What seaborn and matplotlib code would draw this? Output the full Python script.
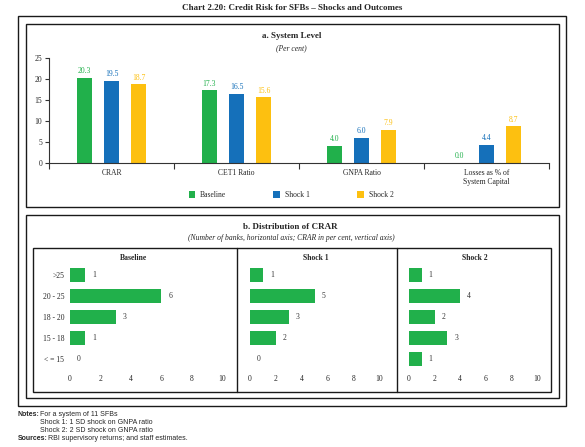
import matplotlib
matplotlib.use("Agg")
import matplotlib.pyplot as plt
import seaborn as sns
import pandas as pd
from matplotlib.patches import Rectangle
from matplotlib.lines import Line2D

# ---------------- data ----------------
categories = ["CRAR", "CET1 Ratio", "GNPA Ratio", "Losses as % of\nSystem Capital"]
series = ["Baseline", "Shock 1", "Shock 2"]
baseline = [20.3, 17.3, 4.0, 0.0]
shock1 = [19.5, 16.5, 6.0, 4.4]
shock2 = [18.7, 15.6, 7.9, 8.7]
y_ticks_a = [0, 5, 10, 15, 20, 25]

crar_buckets = [">25", "20 - 25", "18 - 20", "15 - 18", "< = 15"]
banks_baseline = [1, 6, 3, 1, 0]
banks_shock1 = [1, 5, 3, 2, 0]
banks_shock2 = [1, 4, 2, 3, 1]
x_ticks_b = [0, 2, 4, 6, 8, 10]

colors = ["#21B04B", "#1570BA", "#FDC010"]

# ---------------- style ----------------
sns.set_style("white")
plt.rcParams['font.family'] = ['Liberation Serif', 'DejaVu Sans']
plt.rcParams['axes.unicode_minus'] = False

W, H = 585, 447
fig = plt.figure(figsize=(W / 100, H / 100), dpi=100)
fig.patch.set_facecolor("white")


def fx(px):
    return px / W


def fy(py):
    return 1 - py / H


def axes_px(x0, y0, x1, y1):
    return fig.add_axes([x0 / W, 1 - y1 / H, (x1 - x0) / W, (y1 - y0) / H])


def box(x0, y0, x1, y1, lw=1.0):
    fig.add_artist(Rectangle((fx(x0), fy(y1)), (x1 - x0) / W, (y1 - y0) / H,
                             transform=fig.transFigure, fill=False, lw=lw,
                             ec="#1a1a1a"))


def vline(x, y0, y1, lw=1.0):
    fig.add_artist(Line2D([fx(x), fx(x)], [fy(y0), fy(y1)],
                          transform=fig.transFigure, lw=lw, color="#1a1a1a"))


# frames
box(17.5, 15.5, 565.5, 406)
box(25.5, 23.5, 558.5, 207)
box(25.5, 215.5, 558.5, 398)
box(33, 248, 551, 392)
vline(237, 248, 392)
vline(397, 248, 392)

# titles
fig.text(0.5, fy(8), "Chart 2.20: Credit Risk for SFBs \u2013 Shocks and Outcomes",
         ha="center", va="center", fontsize=6.5, fontweight="bold")
fig.text(fx(291.5), fy(36), "a. System Level", ha="center", va="center",
         fontsize=6.5, fontweight="bold")
fig.text(fx(291.5), fy(48), "(Per cent)", ha="center", va="center",
         fontsize=5.5, style="italic")
fig.text(fx(290), fy(227), "b. Distribution of CRAR", ha="center", va="center",
         fontsize=6.5, fontweight="bold")
fig.text(fx(291), fy(238),
         "(Number of banks, horizontal axis; CRAR in per cent, vertical axis)",
         ha="center", va="center", fontsize=5.5, style="italic")

# ---------------- panel a ----------------
df_a = pd.DataFrame({
    "category": categories * 3,
    "series": [s for s in series for _ in categories],
    "value": baseline + shock1 + shock2,
})
ax = axes_px(49, 58, 549, 163)
sns.barplot(data=df_a, x="category", y="value", hue="series", hue_order=series,
            order=categories, palette=colors, width=0.65, gap=0.42,
            saturation=1, ax=ax, edgecolor="none")
ax.set_xlim(-0.5, 3.5)
ax.set_ylim(0, 25)
ax.set_yticks(y_ticks_a)
ax.set_xlabel("")
ax.set_ylabel("")
for s in ["top", "right"]:
    ax.spines[s].set_visible(False)
for s in ["left", "bottom"]:
    ax.spines[s].set_color("#333333")
    ax.spines[s].set_linewidth(0.8)
ax.tick_params(axis="y", which="major", length=3, width=0.8, color="#333333",
               labelsize=5.5, pad=2, left=True, direction="out")
ax.tick_params(axis="x", which="major", length=0, labelsize=5.5, pad=4)
ax.set_xticks([-0.5, 0.5, 1.5, 2.5, 3.5], minor=True)
ax.tick_params(axis="x", which="minor", length=4, width=0.8, color="#333333",
               bottom=True, direction="out")
for cont, col in zip(ax.containers, colors):
    ax.bar_label(cont, fmt="%.1f", padding=2, fontsize=5.5, color=col)
handles, labels = ax.get_legend_handles_labels()
ax.legend(handles, labels, loc="center", bbox_to_anchor=(fx(291), fy(195)),
          bbox_transform=fig.transFigure, ncol=3, frameon=False,
          handlelength=0.9, handleheight=0.9, handletextpad=0.6,
          columnspacing=6.2, fontsize=5.5)

# ---------------- panel b ----------------
facets = [
    ("Baseline", banks_baseline, 70, 15.2, 133.5),
    ("Shock 1", banks_shock1, 250, 12.9, 316),
    ("Shock 2", banks_shock2, 409, 12.8, 475),
]
for i, (name, vals, x0, scale, tx) in enumerate(facets):
    df_b = pd.DataFrame({"bucket": crar_buckets, "banks": vals})
    left = x0 - 0.3 * scale
    right = x0 + 10.3 * scale
    axb = axes_px(left, 264.5, right, 369.5)
    sns.barplot(data=df_b, y="bucket", x="banks", order=crar_buckets,
                color=colors[0], saturation=1, width=0.67, orient="h",
                ax=axb, edgecolor="none")
    axb.set_xlim(-0.3, 10.3)
    axb.set_ylim(4.5, -0.5)
    axb.set_xticks(x_ticks_b)
    axb.set_xlabel("")
    axb.set_ylabel("")
    for s in axb.spines.values():
        s.set_visible(False)
    axb.patch.set_alpha(0)
    axb.tick_params(axis="x", length=0, labelsize=5.5, pad=4)
    axb.tick_params(axis="y", length=0, labelsize=5.5, pad=1,
                    labelleft=(i == 0))
    for cont in axb.containers:
        axb.bar_label(cont, fmt="%d", padding=5, fontsize=5.5, color="#333333")
    fig.text(fx(tx), fy(258), name, ha="center", va="center", fontsize=5.5,
             fontweight="bold")

# ---------------- notes ----------------
nf = dict(fontsize=5, family=["Liberation Sans", "DejaVu Sans"], va="center")
fig.text(fx(17.5), fy(414), "Notes:", fontweight="bold", **nf)
fig.text(fx(40), fy(414), "For a system of 11 SFBs", **nf)
fig.text(fx(40.5), fy(422), "Shock 1: 1 SD shock on GNPA ratio", **nf)
fig.text(fx(40.5), fy(430), "Shock 2: 2 SD shock on GNPA ratio", **nf)
fig.text(fx(17.5), fy(438), "Sources:", fontweight="bold", **nf)
fig.text(fx(48), fy(438), "RBI supervisory returns; and staff estimates.", **nf)

fig.savefig("out.png", dpi=100, facecolor="white")
